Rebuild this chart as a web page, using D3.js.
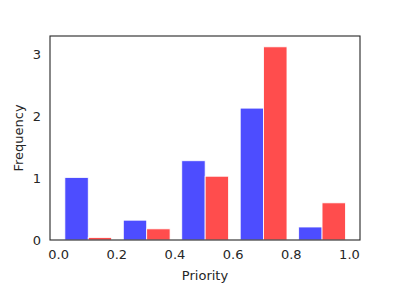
<!DOCTYPE html>
<html>
<head>
<meta charset="utf-8">
<script src="https://cdn.jsdelivr.net/npm/d3@7"></script>
<style>
body { margin: 0; background: #fff; }
text { font-family: "DejaVu Sans", sans-serif; fill: #262626; }
</style>
</head>
<body>
<svg id="chart" width="400" height="300"></svg>
<script>
const binEdges = [0.003, 0.204, 0.405, 0.606, 0.807, 1.008];
const seriesA = [1.01, 0.32, 1.28, 2.13, 0.21];   // blue
const seriesB = [0.04, 0.18, 1.03, 3.12, 0.60];   // red
const xTicks = [0.0, 0.2, 0.4, 0.6, 0.8, 1.0];
const yTicks = [0, 1, 2, 3];
const colors = ["#4d4dff", "#ff4d4d"];

const margin = {left: 50, right: 40, top: 36, bottom: 60};
const W = 400, H = 300;
const svg = d3.select("#chart");

const x = d3.scaleLinear().domain([-0.028, 1.038]).range([margin.left, W - margin.right]);
const y = d3.scaleLinear().domain([0, 3.295]).range([H - margin.bottom, margin.top]);

const bins = binEdges.slice(0, -1).map((e, i) => ({x0: e, x1: binEdges[i + 1], a: seriesA[i], b: seriesB[i]}));
const rw = 0.8;
const g = svg.append("g");
bins.forEach(bn => {
  const w = bn.x1 - bn.x0;
  const start = bn.x0 + w * (1 - rw) / 2;
  const bw = w * rw / 2;
  [bn.a, bn.b].forEach((v, k) => {
    const l = start + k * bw;
    g.append("rect")
      .attr("x", x(l))
      .attr("width", x(l + bw) - x(l))
      .attr("y", y(v))
      .attr("height", y(0) - y(v))
      .attr("fill", colors[k])
      .attr("stroke", "#fff")
      .attr("stroke-width", 0.8);
  });
});

// frame
svg.append("rect")
  .attr("x", margin.left).attr("y", margin.top)
  .attr("width", W - margin.left - margin.right)
  .attr("height", H - margin.top - margin.bottom)
  .attr("fill", "none").attr("stroke", "#262626").attr("stroke-width", 1.1);

// axes
const xAxis = svg.append("g")
  .attr("transform", `translate(0,${H - margin.bottom})`)
  .call(d3.axisBottom(x).tickValues(xTicks).tickFormat(d3.format(".1f")).tickSize(0).tickPadding(10));
const yAxis = svg.append("g")
  .attr("transform", `translate(${margin.left},0)`)
  .call(d3.axisLeft(y).tickValues(yTicks).tickFormat(d3.format("d")).tickSize(0).tickPadding(9));
[xAxis, yAxis].forEach(a => {
  a.select(".domain").remove();
  a.selectAll("text").attr("font-size", 13).attr("font-family", "DejaVu Sans, sans-serif").attr("fill", "#262626");
});

svg.append("text")
  .attr("x", (margin.left + W - margin.right) / 2)
  .attr("y", 280)
  .attr("text-anchor", "middle")
  .attr("font-size", 13)
  .text("Priority");

svg.append("text")
  .attr("transform", `translate(23,${(margin.top + H - margin.bottom) / 2}) rotate(-90)`)
  .attr("text-anchor", "middle")
  .attr("font-size", 13)
  .text("Frequency");
</script>
</body>
</html>
